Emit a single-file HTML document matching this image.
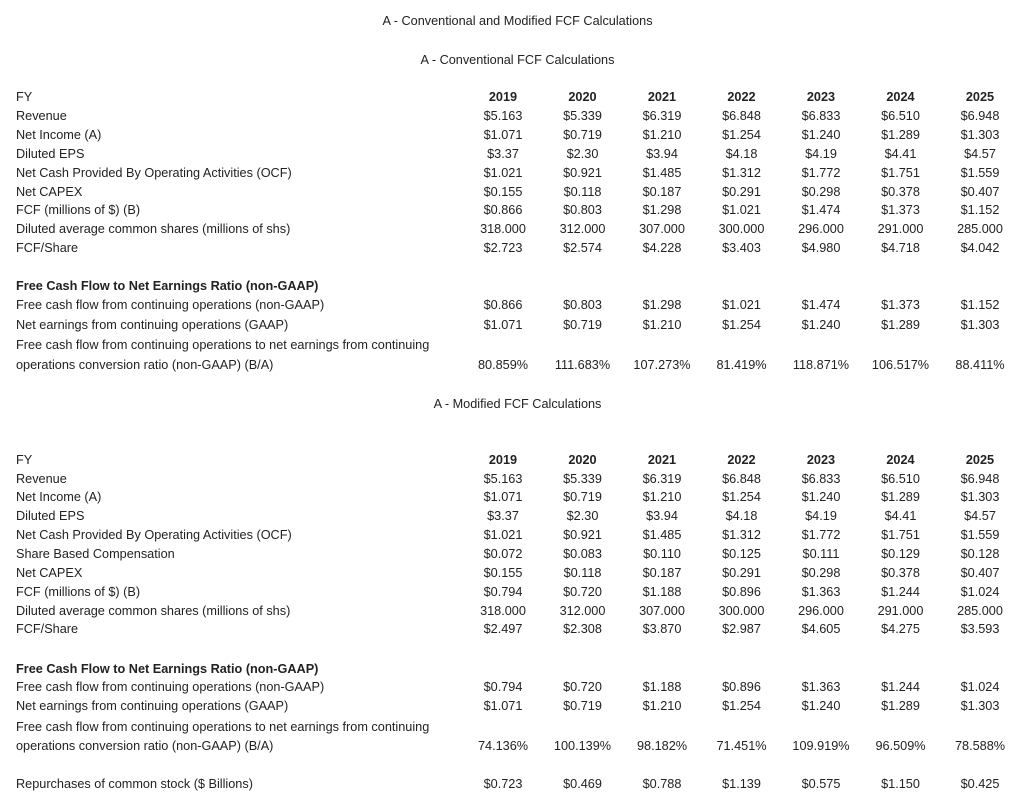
<!DOCTYPE html>
<html>
<head>
<meta charset="utf-8">
<style>
  html, body { margin:0; padding:0; background:#fff; }
  body { width:1024px; height:808px; position:relative; overflow:hidden;
         font-family:"Liberation Sans", Arial, sans-serif; font-size:12.7px; color:#222; }
  .r { position:absolute; left:0; width:1024px; height:15px; line-height:15px; white-space:nowrap; }
  .l { position:absolute; left:16px; top:0; }
  .v { position:absolute; top:0; width:80px; text-align:center; }
  .c1 { left:463px; } .c2 { left:542.5px; } .c3 { left:622px; } .c4 { left:701.5px; }
  .c5 { left:781px; } .c6 { left:860.5px; } .c7 { left:940px; }
  .b { font-weight:bold; }
  .t { position:absolute; left:0; width:1035px; text-align:center; height:15px; line-height:15px; }
</style>
</head>
<body>

<div class="t" style="top:14px;">A - Conventional and Modified FCF Calculations</div>
<div class="t" style="top:53px;">A - Conventional FCF Calculations</div>

<div class="r b" style="top:90.3px"><span class="l" style="font-weight:normal">FY</span><span class="v c1">2019</span><span class="v c2">2020</span><span class="v c3">2021</span><span class="v c4">2022</span><span class="v c5">2023</span><span class="v c6">2024</span><span class="v c7">2025</span></div>
<div class="r" style="top:109px"><span class="l">Revenue</span><span class="v c1">$5.163</span><span class="v c2">$5.339</span><span class="v c3">$6.319</span><span class="v c4">$6.848</span><span class="v c5">$6.833</span><span class="v c6">$6.510</span><span class="v c7">$6.948</span></div>
<div class="r" style="top:128px"><span class="l">Net Income (A)</span><span class="v c1">$1.071</span><span class="v c2">$0.719</span><span class="v c3">$1.210</span><span class="v c4">$1.254</span><span class="v c5">$1.240</span><span class="v c6">$1.289</span><span class="v c7">$1.303</span></div>
<div class="r" style="top:147px"><span class="l">Diluted EPS</span><span class="v c1">$3.37</span><span class="v c2">$2.30</span><span class="v c3">$3.94</span><span class="v c4">$4.18</span><span class="v c5">$4.19</span><span class="v c6">$4.41</span><span class="v c7">$4.57</span></div>
<div class="r" style="top:166px"><span class="l">Net Cash Provided By Operating Activities (OCF)</span><span class="v c1">$1.021</span><span class="v c2">$0.921</span><span class="v c3">$1.485</span><span class="v c4">$1.312</span><span class="v c5">$1.772</span><span class="v c6">$1.751</span><span class="v c7">$1.559</span></div>
<div class="r" style="top:184.7px"><span class="l">Net CAPEX</span><span class="v c1">$0.155</span><span class="v c2">$0.118</span><span class="v c3">$0.187</span><span class="v c4">$0.291</span><span class="v c5">$0.298</span><span class="v c6">$0.378</span><span class="v c7">$0.407</span></div>
<div class="r" style="top:203px"><span class="l">FCF (millions of $) (B)</span><span class="v c1">$0.866</span><span class="v c2">$0.803</span><span class="v c3">$1.298</span><span class="v c4">$1.021</span><span class="v c5">$1.474</span><span class="v c6">$1.373</span><span class="v c7">$1.152</span></div>
<div class="r" style="top:222px"><span class="l">Diluted average common shares (millions of shs)</span><span class="v c1">318.000</span><span class="v c2">312.000</span><span class="v c3">307.000</span><span class="v c4">300.000</span><span class="v c5">296.000</span><span class="v c6">291.000</span><span class="v c7">285.000</span></div>
<div class="r" style="top:241px"><span class="l">FCF/Share</span><span class="v c1">$2.723</span><span class="v c2">$2.574</span><span class="v c3">$4.228</span><span class="v c4">$3.403</span><span class="v c5">$4.980</span><span class="v c6">$4.718</span><span class="v c7">$4.042</span></div>

<div class="r" style="top:278.7px"><span class="l b">Free Cash Flow to Net Earnings Ratio (non-GAAP)</span></div>
<div class="r" style="top:298px"><span class="l">Free cash flow from continuing operations (non-GAAP)</span><span class="v c1">$0.866</span><span class="v c2">$0.803</span><span class="v c3">$1.298</span><span class="v c4">$1.021</span><span class="v c5">$1.474</span><span class="v c6">$1.373</span><span class="v c7">$1.152</span></div>
<div class="r" style="top:318px"><span class="l">Net earnings from continuing operations (GAAP)</span><span class="v c1">$1.071</span><span class="v c2">$0.719</span><span class="v c3">$1.210</span><span class="v c4">$1.254</span><span class="v c5">$1.240</span><span class="v c6">$1.289</span><span class="v c7">$1.303</span></div>
<div class="r" style="top:338px"><span class="l">Free cash flow from continuing operations to net earnings from continuing</span></div>
<div class="r" style="top:358px"><span class="l">operations conversion ratio (non-GAAP) (B/A)</span><span class="v c1">80.859%</span><span class="v c2">111.683%</span><span class="v c3">107.273%</span><span class="v c4">81.419%</span><span class="v c5">118.871%</span><span class="v c6">106.517%</span><span class="v c7">88.411%</span></div>

<div class="t" style="top:396.5px;">A - Modified FCF Calculations</div>

<div class="r b" style="top:453px"><span class="l" style="font-weight:normal">FY</span><span class="v c1">2019</span><span class="v c2">2020</span><span class="v c3">2021</span><span class="v c4">2022</span><span class="v c5">2023</span><span class="v c6">2024</span><span class="v c7">2025</span></div>
<div class="r" style="top:471.5px"><span class="l">Revenue</span><span class="v c1">$5.163</span><span class="v c2">$5.339</span><span class="v c3">$6.319</span><span class="v c4">$6.848</span><span class="v c5">$6.833</span><span class="v c6">$6.510</span><span class="v c7">$6.948</span></div>
<div class="r" style="top:490.3px"><span class="l">Net Income (A)</span><span class="v c1">$1.071</span><span class="v c2">$0.719</span><span class="v c3">$1.210</span><span class="v c4">$1.254</span><span class="v c5">$1.240</span><span class="v c6">$1.289</span><span class="v c7">$1.303</span></div>
<div class="r" style="top:509px"><span class="l">Diluted EPS</span><span class="v c1">$3.37</span><span class="v c2">$2.30</span><span class="v c3">$3.94</span><span class="v c4">$4.18</span><span class="v c5">$4.19</span><span class="v c6">$4.41</span><span class="v c7">$4.57</span></div>
<div class="r" style="top:528px"><span class="l">Net Cash Provided By Operating Activities (OCF)</span><span class="v c1">$1.021</span><span class="v c2">$0.921</span><span class="v c3">$1.485</span><span class="v c4">$1.312</span><span class="v c5">$1.772</span><span class="v c6">$1.751</span><span class="v c7">$1.559</span></div>
<div class="r" style="top:547px"><span class="l">Share Based Compensation</span><span class="v c1">$0.072</span><span class="v c2">$0.083</span><span class="v c3">$0.110</span><span class="v c4">$0.125</span><span class="v c5">$0.111</span><span class="v c6">$0.129</span><span class="v c7">$0.128</span></div>
<div class="r" style="top:565.7px"><span class="l">Net CAPEX</span><span class="v c1">$0.155</span><span class="v c2">$0.118</span><span class="v c3">$0.187</span><span class="v c4">$0.291</span><span class="v c5">$0.298</span><span class="v c6">$0.378</span><span class="v c7">$0.407</span></div>
<div class="r" style="top:584.7px"><span class="l">FCF (millions of $) (B)</span><span class="v c1">$0.794</span><span class="v c2">$0.720</span><span class="v c3">$1.188</span><span class="v c4">$0.896</span><span class="v c5">$1.363</span><span class="v c6">$1.244</span><span class="v c7">$1.024</span></div>
<div class="r" style="top:603.7px"><span class="l">Diluted average common shares (millions of shs)</span><span class="v c1">318.000</span><span class="v c2">312.000</span><span class="v c3">307.000</span><span class="v c4">300.000</span><span class="v c5">296.000</span><span class="v c6">291.000</span><span class="v c7">285.000</span></div>
<div class="r" style="top:622.3px"><span class="l">FCF/Share</span><span class="v c1">$2.497</span><span class="v c2">$2.308</span><span class="v c3">$3.870</span><span class="v c4">$2.987</span><span class="v c5">$4.605</span><span class="v c6">$4.275</span><span class="v c7">$3.593</span></div>

<div class="r" style="top:661.5px"><span class="l b">Free Cash Flow to Net Earnings Ratio (non-GAAP)</span></div>
<div class="r" style="top:680px"><span class="l">Free cash flow from continuing operations (non-GAAP)</span><span class="v c1">$0.794</span><span class="v c2">$0.720</span><span class="v c3">$1.188</span><span class="v c4">$0.896</span><span class="v c5">$1.363</span><span class="v c6">$1.244</span><span class="v c7">$1.024</span></div>
<div class="r" style="top:699px"><span class="l">Net earnings from continuing operations (GAAP)</span><span class="v c1">$1.071</span><span class="v c2">$0.719</span><span class="v c3">$1.210</span><span class="v c4">$1.254</span><span class="v c5">$1.240</span><span class="v c6">$1.289</span><span class="v c7">$1.303</span></div>
<div class="r" style="top:719.5px"><span class="l">Free cash flow from continuing operations to net earnings from continuing</span></div>
<div class="r" style="top:738.5px"><span class="l">operations conversion ratio (non-GAAP) (B/A)</span><span class="v c1">74.136%</span><span class="v c2">100.139%</span><span class="v c3">98.182%</span><span class="v c4">71.451%</span><span class="v c5">109.919%</span><span class="v c6">96.509%</span><span class="v c7">78.588%</span></div>

<div class="r" style="top:777px"><span class="l">Repurchases of common stock ($ Billions)</span><span class="v c1">$0.723</span><span class="v c2">$0.469</span><span class="v c3">$0.788</span><span class="v c4">$1.139</span><span class="v c5">$0.575</span><span class="v c6">$1.150</span><span class="v c7">$0.425</span></div>

</body>
</html>
